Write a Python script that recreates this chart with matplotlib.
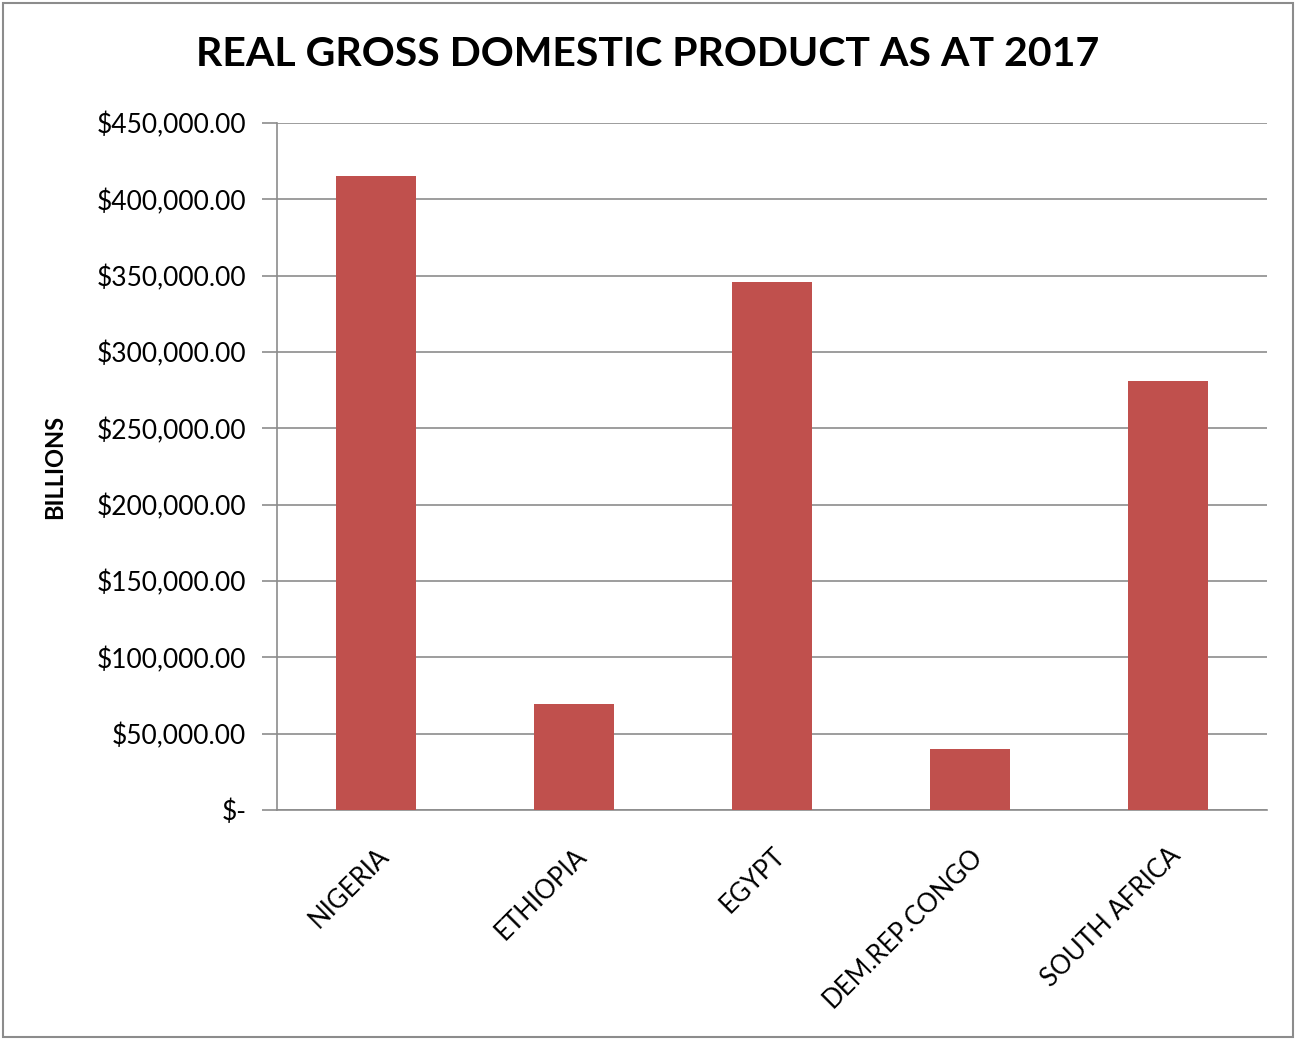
import matplotlib.pyplot as plt
from matplotlib.ticker import FuncFormatter
from matplotlib.patches import Rectangle

# real GDP figures, 2017
countries = ["NIGERIA", "ETHIOPIA", "EGYPT", "DEM.REP.CONGO", "SOUTH AFRICA"]
gdp = [415000, 69500, 346000, 40000, 281000]

plt.rcParams['font.family'] = ['Lato', 'DejaVu Sans']

fig = plt.figure(figsize=(12.96, 10.4), dpi=100)
ax = fig.add_axes([0.2137, 0.2212, 0.764, 0.6605])

ax.bar(range(len(countries)), gdp, width=0.404, color="#C0504D", zorder=3)

ax.set_xlim(-0.5, len(countries) - 0.5)
ax.set_ylim(0, 450000)
ax.set_yticks(range(0, 450001, 50000))

def money(v, pos):
    if v == 0:
        return "$-"
    return "${:,.2f}".format(v)

ax.yaxis.set_major_formatter(FuncFormatter(money))
ax.grid(axis='y', color='#8c8c8c', linewidth=1.2, zorder=0)
ax.set_axisbelow(True)

for s in ['top', 'right']:
    ax.spines[s].set_visible(False)
for s in ['left', 'bottom']:
    ax.spines[s].set_color('#8c8c8c')
    ax.spines[s].set_linewidth(1.2)

ax.tick_params(axis='y', length=11, width=1.2, color='#8c8c8c', labelsize=19, pad=11)
ax.tick_params(axis='x', length=0, labelsize=18.5, pad=24)
ax.set_xticks(range(len(countries)))
ax.set_xticklabels(countries, rotation=45, ha='right', rotation_mode='anchor')

ax.set_ylabel("BILLIONS", fontsize=17, fontweight='bold', labelpad=22)
fig.text(0.5, 0.948, "REAL GROSS DOMESTIC PRODUCT AS AT 2017", ha='center', va='center',
         fontsize=29.5, fontweight='bold')

# outer chart border
fig.patches.append(Rectangle((0.002, 0.003), 0.996, 0.994, transform=fig.transFigure,
                             fill=False, edgecolor='#8c8c8c', linewidth=1.5))

fig.savefig("out.png", dpi=100)
